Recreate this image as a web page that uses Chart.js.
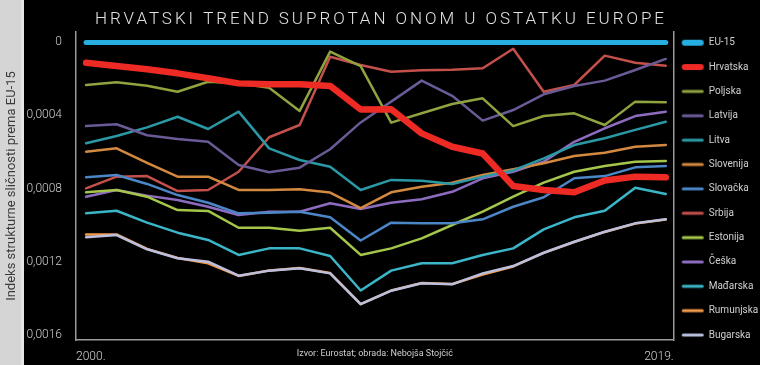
<!DOCTYPE html>
<html><head><meta charset="utf-8">
<script src="https://cdn.jsdelivr.net/npm/chart.js@4.4.1/dist/chart.umd.min.js"></script>
<style>html,body{margin:0;padding:0;background:#000;overflow:hidden}</style>
</head><body>
<canvas id="c" width="760" height="365"></canvas>
<script>
const chartTitle = 'HRVATSKI TREND SUPROTAN ONOM U OSTATKU EUROPE';
const yTitle = 'Indeks strukturne sličnosti prema EU-15';
const sourceText = 'Izvor: Eurostat; obrada: Nebojša Stojčić';
const years = [2000,2001,2002,2003,2004,2005,2006,2007,2008,2009,2010,2011,2012,2013,2014,2015,2016,2017,2018,2019];
const xTickLabels = ['2000.', '2019.'];
const yTicks = [0, 0.0004, 0.0008, 0.0012, 0.0016];
const yTickLabels = ['0', '0,0004', '0,0008', '0,0012', '0,0016'];

const seriesNames = ['EU-15','Hrvatska','Poljska','Latvija','Litva','Slovenija','Slovačka','Srbija','Estonija','Češka','Mađarska','Rumunjska','Bugarska'];

const eu15      = [0,0,0,0,0,0,0,0,0,0,0,0,0,0,0,0,0,0,0,0];
const hrvatska  = [0.000111,0.000129,0.000147,0.000169,0.000196,0.000224,0.000229,0.000229,0.000238,0.000367,0.000366,0.000498,0.000571,0.000608,0.000786,0.000808,0.000821,0.000756,0.000735,0.000739];
const poljska   = [0.000233,0.000218,0.000237,0.000270,0.000215,0.000224,0.000248,0.000375,0.000050,0.000129,0.000439,0.000388,0.000337,0.000306,0.000458,0.000403,0.000388,0.000452,0.000324,0.000327];
const latvija   = [0.000458,0.000448,0.000508,0.000529,0.000544,0.000671,0.000711,0.000686,0.000585,0.000438,0.000324,0.000209,0.000292,0.000428,0.000370,0.000284,0.000238,0.000209,0.000151,0.000090];
const litva     = [0.000552,0.000512,0.000465,0.000407,0.000474,0.000379,0.000580,0.000644,0.000681,0.000808,0.000753,0.000757,0.000775,0.000735,0.000701,0.000635,0.000562,0.000525,0.000479,0.000434];
const slovenija = [0.000598,0.000580,0.000659,0.000735,0.000735,0.000808,0.000808,0.000804,0.000822,0.000908,0.000821,0.000790,0.000768,0.000726,0.000695,0.000662,0.000622,0.000604,0.000571,0.000562];
const slovacka  = [0.000739,0.000726,0.000775,0.000836,0.000878,0.000936,0.000933,0.000927,0.000958,0.001085,0.000987,0.000991,0.000991,0.000969,0.000900,0.000848,0.000744,0.000732,0.000684,0.000677];
const srbija    = [0.000799,0.000735,0.000732,0.000814,0.000808,0.000708,0.000519,0.000452,0.000078,0.000123,0.000160,0.000152,0.000149,0.000141,0.000034,0.000270,0.000233,0.000072,0.000111,0.000127];
const estonija  = [0.000821,0.000808,0.000845,0.000918,0.000923,0.001015,0.001015,0.001031,0.001015,0.001164,0.001128,0.001073,0.001000,0.000927,0.000845,0.000768,0.000708,0.000677,0.000653,0.000649];
const ceska     = [0.000845,0.000808,0.000839,0.000863,0.000900,0.000945,0.000927,0.000927,0.000881,0.000912,0.000878,0.000859,0.000818,0.000744,0.000708,0.000653,0.000544,0.000470,0.000403,0.000379];
const madarska  = [0.000936,0.000922,0.000987,0.001042,0.001082,0.001164,0.001128,0.001128,0.001170,0.001359,0.001250,0.001210,0.001210,0.001164,0.001128,0.001024,0.000958,0.000922,0.000796,0.000830];
const rumunjska = [0.001052,0.001052,0.001131,0.001181,0.001210,0.001279,0.001249,0.001236,0.001263,0.001433,0.001359,0.001318,0.001323,0.001271,0.001227,0.001153,0.001093,0.001038,0.000992,0.000970];
const bugarska  = [0.001067,0.001055,0.001133,0.001182,0.001201,0.001278,0.001250,0.001237,0.001265,0.001434,0.001360,0.001319,0.001325,0.001265,0.001225,0.001152,0.001092,0.001037,0.000991,0.000969];

const seriesValues = [eu15,hrvatska,poljska,latvija,litva,slovenija,slovacka,srbija,estonija,ceska,madarska,rumunjska,bugarska];
const seriesColors = ['#27aee0','#ee2a24','#8fa33f','#6a5a96','#2b98a6','#d3893f','#4b86c6','#c4504c','#a5c64a','#8d6cc0','#3bb6c8','#f19a4c','#b9bfdc'];
const seriesWidths = [5,6.5,2.5,2.5,2.5,2.5,2.5,2.5,2.5,2.5,2.5,2.5,2.5];
const seriesOrder  = [0,0,0,0,0,0,0,0,0,0,0,1,0];

function swatch(color, w) {
  const c = document.createElement('canvas');
  c.width = 24; c.height = 8;
  const g = c.getContext('2d');
  g.strokeStyle = color; g.lineWidth = w; g.lineCap = 'round';
  g.beginPath(); g.moveTo(1 + w/2, 4); g.lineTo(23 - w/2, 4); g.stroke();
  return c;
}
const swatches = seriesColors.map((c, i) => swatch(c, seriesWidths[i] >= 5 ? 6 : 3));

const datasets = seriesNames.map((name, i) => ({
  label: name,
  data: years.map((yr, j) => ({x: yr, y: seriesValues[i][j]})),
  borderColor: seriesColors[i],
  backgroundColor: seriesColors[i],
  borderWidth: seriesWidths[i],
  borderCapStyle: 'round',
  borderJoinStyle: 'round',
  pointRadius: 0,
  tension: 0,
  fill: false,
  order: seriesOrder[i]
}));

const bgPlugin = {
  id: 'bg',
  beforeDraw(chart) {
    const ctx = chart.ctx;
    ctx.save();
    ctx.fillStyle = '#000';
    ctx.fillRect(0, 0, chart.width, chart.height);
    ctx.fillStyle = '#d5d5d5';
    ctx.fillRect(0, 0, 24, chart.height);
    ctx.fillStyle = '#e6e6e6';
    ctx.fillRect(21, 0, 3, chart.height);
    ctx.restore();
  },
  afterDraw(chart) {
    const ctx = chart.ctx;
    ctx.save();
    ctx.font = '300 17px Roboto';
    ctx.fillStyle = '#e2e2e2';
    ctx.textBaseline = 'middle';
    ctx.textAlign = 'left';
    ctx.letterSpacing = '0px';
    const w0 = ctx.measureText(chartTitle).width;
    const n = Array.from(chartTitle).length;
    const sp = (569 - w0) / (n - 1);
    ctx.letterSpacing = sp + 'px';
    ctx.fillText(chartTitle, 95, 20);
    ctx.letterSpacing = '0px';
    ctx.font = '9px Roboto';
    ctx.fillStyle = '#cfcfcf';
    ctx.textAlign = 'center';
    const ca = chart.chartArea;
    ctx.fillText(sourceText, (ca.left + ca.right) / 2, 354);
    ctx.restore();
  }
};

const XMIN = 1999.67, XMAX = 2019.26;
const YMIN = -0.0000575, YMAX = 0.0016301;

new Chart(document.getElementById('c'), {
  type: 'line',
  data: { datasets },
  plugins: [bgPlugin],
  options: {
    responsive: false,
    animation: false,
    devicePixelRatio: 1,
    layout: { padding: { top: 32, left: 0, right: 0, bottom: 0 } },
    plugins: {
      title: { display: false },
      tooltip: { enabled: false },
      legend: {
        position: 'right',
        align: 'start',
        maxWidth: 84,
        labels: {
          usePointStyle: true,
          pointStyleWidth: 22,
          padding: 5.7,
          color: '#d0d0d0',
          font: { family: 'Roboto', size: 10, lineHeight: 1.866 },
          generateLabels: (chart) => chart.data.datasets.map((ds, i) => ({
            text: [ds.label],
            fillStyle: ds.borderColor,
            strokeStyle: ds.borderColor,
            fontColor: '#d0d0d0',
            lineWidth: 0,
            pointStyle: swatches[i],
            hidden: false,
            datasetIndex: i
          }))
        }
      }
    },
    scales: {
      x: {
        type: 'linear',
        min: XMIN, max: XMAX,
        afterBuildTicks: (s) => { s.ticks = [{value: XMIN}, {value: XMAX}]; },
        afterFit: (s) => { s.height = 25; },
        grid: { display: false },
        border: { display: true, color: '#9a9a9a', width: 1.5 },
        ticks: {
          autoSkip: false, maxRotation: 0, align: 'inner', padding: 2,
          color: '#d0d0d0', font: { family: 'Roboto', size: 12, weight: 300 },
          callback: (v, i) => xTickLabels[i]
        }
      },
      y: {
        reverse: true,
        min: YMIN, max: YMAX,
        afterBuildTicks: (s) => { s.ticks = yTicks.map(v => ({value: v})); },
        afterFit: (s) => { s.width = 76; },
        grid: { display: false },
        border: { display: true, color: '#9a9a9a', width: 1.5 },
        ticks: {
          autoSkip: false, padding: 6,
          color: '#cdcdcd', font: { family: 'Roboto', size: 12, weight: 300 },
          callback: (v, i) => yTickLabels[i]
        },
        title: {
          display: true, text: yTitle, color: '#3a3a3a',
          font: { family: 'Roboto', size: 13 },
          padding: { top: 4, bottom: 0 }
        }
      },
      y2: {
        position: 'right',
        display: true,
        grid: { display: false },
        ticks: { display: false },
        border: { display: true, color: '#9a9a9a', width: 1.5 },
        afterFit: (s) => { s.width = 2.3; }
      }
    }
  }
});
</script>
</body></html>
